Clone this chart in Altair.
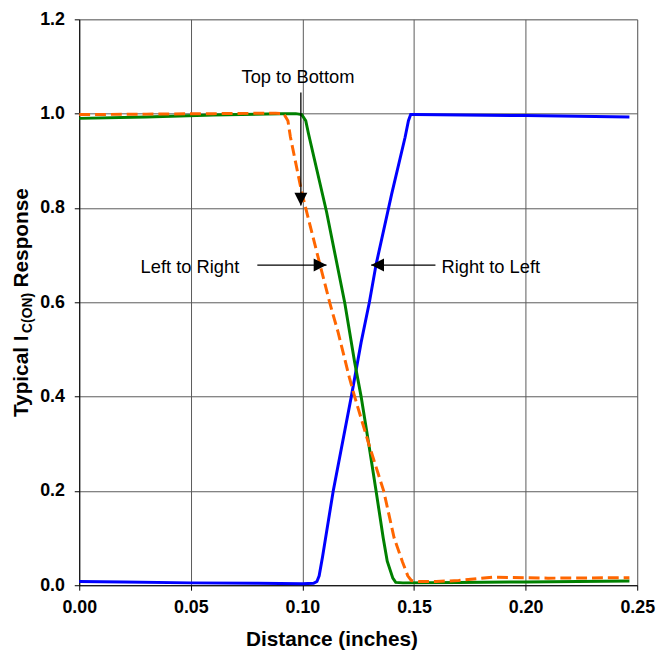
import altair as alt
import pandas as pd

# ---- data ----
rl_x = [0, 0.02, 0.05, 0.08, 0.100, 0.105, 0.1065, 0.1075, 0.109, 0.1138, 0.1219, 0.1263, 0.130, 0.133, 0.140, 0.146, 0.1475, 0.1485, 0.15, 0.20, 0.2465]
rl_y = [0.008, 0.007, 0.005, 0.004, 0.003, 0.004, 0.008, 0.02, 0.06, 0.2, 0.4, 0.515, 0.6, 0.68, 0.83, 0.95, 0.985, 0.998, 0.998, 0.996, 0.993]

tb_x = [0, 0.03, 0.06, 0.09, 0.097, 0.0997, 0.1015, 0.1027, 0.1108, 0.119, 0.1234, 0.1263, 0.1297, 0.133, 0.1362, 0.138, 0.1405, 0.1418, 0.145, 0.17, 0.20, 0.2465]
tb_y = [0.99, 0.993, 0.997, 1.0, 1.0, 0.998, 0.985, 0.958, 0.792, 0.598, 0.473, 0.4, 0.3, 0.2, 0.1, 0.051, 0.015, 0.006, 0.005, 0.006, 0.007, 0.009]

lr_x = [0, 0.03, 0.06, 0.088, 0.0916, 0.0935, 0.0946, 0.0997, 0.1078, 0.1123, 0.116, 0.1211, 0.1234, 0.1297, 0.1364, 0.1411, 0.1448, 0.1472, 0.1488, 0.152, 0.16, 0.17, 0.185, 0.21, 0.2465]
lr_y = [0.998, 0.999, 1.0, 1.001, 1.0, 0.985, 0.951, 0.833, 0.681, 0.598, 0.536, 0.439, 0.4, 0.3, 0.2, 0.1, 0.05, 0.02, 0.01, 0.008, 0.008, 0.01, 0.017, 0.015, 0.016]

x_ticks = [0, 0.05, 0.10, 0.15, 0.20, 0.25]
y_ticks = [0, 0.2, 0.4, 0.6, 0.8, 1.0, 1.2]

# annotations: label text positions and arrows (data coordinates)
label_text = ["Top to Bottom", "Left to Right", "Right to Left"]
label_x = [0.098, 0.0496, 0.1844]
label_y = [1.078, 0.675, 0.675]

arrow_x1 = [0.0993, 0.0798, 0.1596]
arrow_y1 = [1.045, 0.679, 0.679]
arrow_x2 = [0.0993, 0.1108, 0.1308]
arrow_y2 = [0.805, 0.679, 0.679]
arrow_dir = ["down", "right", "left"]

FONT = "Liberation Sans"
W, H = 564, 572

xs = alt.Scale(domain=[0, 0.25], nice=False)
ys = alt.Scale(domain=[0, 1.2], nice=False)

x_axis = alt.Axis(values=x_ticks, format=".2f", title="Distance (inches)", grid=True,
                  gridColor="#5a5a5a", gridOpacity=1, domainColor="black", tickColor="black",
                  tickSize=5, labelFont=FONT, labelFontSize=18, labelFontWeight="bold",
                  labelColor="black", labelPadding=9, titleFont=FONT, titleFontSize=21,
                  titleFontWeight="bold", titleColor="black", titlePadding=12, labelFlush=False,
                  titleX=255, titleAlign="center")
y_axis = alt.Axis(values=y_ticks, format=".1f", title="", grid=True,
                  gridColor="#5a5a5a", gridOpacity=1, domainColor="black", tickColor="black",
                  tickSize=5, labelFont=FONT, labelFontSize=18, labelFontWeight="bold",
                  labelColor="black", labelPadding=10, labelFlush=False)

df_rl = pd.DataFrame({"x": rl_x, "y": rl_y})
df_tb = pd.DataFrame({"x": tb_x, "y": tb_y})
df_lr = pd.DataFrame({"x": lr_x, "y": lr_y})

blue = alt.Chart(df_rl).mark_line(color="#0000ff", strokeWidth=3).encode(
    x=alt.X("x:Q", scale=xs, axis=x_axis), y=alt.Y("y:Q", scale=ys, axis=y_axis))
green = alt.Chart(df_tb).mark_line(color="#008000", strokeWidth=3).encode(
    x=alt.X("x:Q", scale=xs), y=alt.Y("y:Q", scale=ys))
orange = alt.Chart(df_lr).mark_line(color="#ff6600", strokeWidth=3, strokeDash=[11, 5]).encode(
    x=alt.X("x:Q", scale=xs), y=alt.Y("y:Q", scale=ys))

df_arrow = pd.DataFrame({"x": arrow_x1, "y": arrow_y1, "x2": arrow_x2, "y2": arrow_y2, "dir": arrow_dir})
rules = alt.Chart(df_arrow).mark_rule(color="black", strokeWidth=1.3).encode(
    x=alt.X("x:Q", scale=xs), y=alt.Y("y:Q", scale=ys), x2="x2:Q", y2="y2:Q")

heads = alt.Chart(df_arrow).mark_point(filled=True, color="black", opacity=1, strokeWidth=0, size=169).encode(
    x=alt.X("x2:Q", scale=xs), y=alt.Y("y2:Q", scale=ys),
    shape=alt.Shape("dir:N", legend=None, scale=alt.Scale(
        domain=["down", "right", "left"],
        range=["M0,0L-1,-2L1,-2Z", "M0,0L-2,-1L-2,1Z", "M0,0L2,-1L2,1Z"])))

df_lab = pd.DataFrame({"x": label_x, "y": label_y, "t": label_text})
labels = alt.Chart(df_lab).mark_text(font=FONT, fontSize=18.5, color="black", align="center", baseline="middle").encode(
    x=alt.X("x:Q", scale=xs), y=alt.Y("y:Q", scale=ys), text="t:N")

# rotated y-axis title with subscript
yt_parts = ["Typical I", "C(ON)", "Response"]
df_y1 = pd.DataFrame({"t": [yt_parts[0]]})
df_y2 = pd.DataFrame({"t": [yt_parts[1]]})
df_y3 = pd.DataFrame({"t": [yt_parts[2]]})
yt1 = alt.Chart(df_y1).mark_text(font=FONT, fontSize=21, fontWeight="bold", color="black", angle=270,
                                 align="left", baseline="middle").encode(x=alt.value(-58), y=alt.value(402), text="t:N")
yt2 = alt.Chart(df_y2).mark_text(font=FONT, fontSize=14, fontWeight="bold", color="black", angle=270,
                                 align="left", baseline="middle").encode(x=alt.value(-52), y=alt.value(317), text="t:N")
yt3 = alt.Chart(df_y3).mark_text(font=FONT, fontSize=21, fontWeight="bold", color="black", angle=270,
                                 align="left", baseline="middle").encode(x=alt.value(-58), y=alt.value(271), text="t:N")

chart = alt.layer(blue, green, orange, rules, heads, labels, yt1, yt2, yt3).properties(
    width=W, height=H,
    autosize=alt.AutoSizeParams(type="none"),
    padding={"left": 72, "top": 8, "right": 20, "bottom": 62},
).configure_view(stroke="#808080", strokeWidth=1).configure(background="white")

chart.save("out.html", embed_options={"renderer": "svg", "actions": False})
